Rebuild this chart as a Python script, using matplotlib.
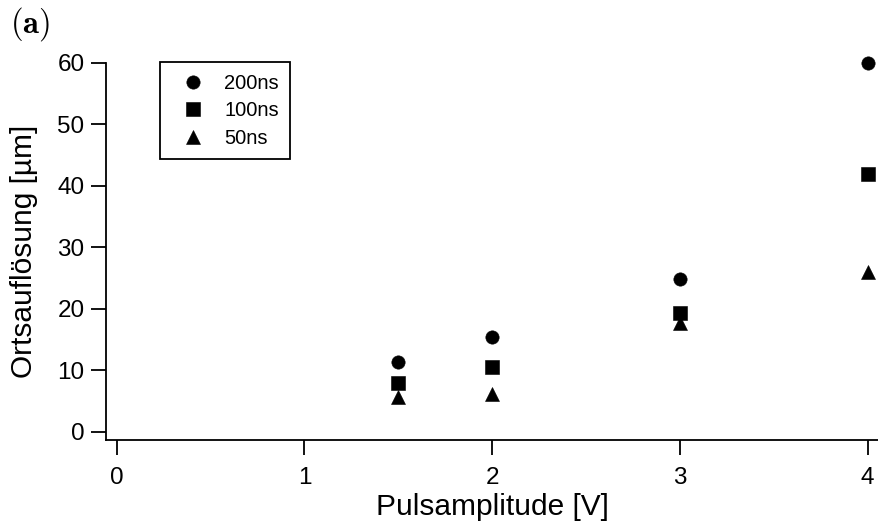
"""Ortsaufloesung vs. Pulsamplitude fuer drei Pulslaengen (Panel a)."""

import matplotlib
matplotlib.use("Agg")
import matplotlib.pyplot as plt

plt.rcParams["font.family"] = ["Liberation Sans", "DejaVu Sans"]
plt.rcParams["mathtext.fontset"] = "cm"

pulse_amp = [1.5, 2.0, 3.0, 4.0]
res_200ns = [11.4, 15.4, 24.8, 60.0]
res_100ns = [7.9, 10.6, 19.3, 41.9]
res_50ns = [5.6, 6.2, 17.6, 26.0]

series = [
    ("200ns", res_200ns, "o"),
    ("100ns", res_100ns, "s"),
    ("50ns", res_50ns, "^"),
]

x_ticks = [0, 1, 2, 3, 4]
y_ticks = [0, 10, 20, 30, 40, 50, 60]

fig = plt.figure(figsize=(8.79, 5.27), dpi=100)
ax = fig.add_axes([0.1206, 0.165, 0.8794, 0.716])

for label, values, marker in series:
    ax.plot(pulse_amp, values, linestyle="none", marker=marker, color="black",
            markersize=9.6, markeredgewidth=0.4, label=label, clip_on=False)

ax.set_xlim(-0.057, 4.06)
ax.set_ylim(-1.35, 60)
ax.set_xticks(x_ticks)
ax.set_yticks(y_ticks)

for side in ("top", "right"):
    ax.spines[side].set_visible(False)
for side in ("left", "bottom"):
    ax.spines[side].set_linewidth(1.3)

ax.tick_params(axis="both", direction="out", length=10.5, width=1.3,
               labelsize=17.5)
ax.tick_params(axis="x", pad=9)
ax.tick_params(axis="y", pad=5)

ax.set_xlabel("Pulsamplitude [V]", fontsize=21.5, labelpad=3)
ax.set_ylabel("Ortsauflösung [µm]", fontsize=21.5, labelpad=14)

leg = ax.legend(loc="upper left", bbox_to_anchor=(0.0699, 1.002),
                borderaxespad=0, fancybox=False, framealpha=1,
                edgecolor="black", fontsize=14.5, handletextpad=0.5,
                labelspacing=0.42, borderpad=0.58, handlelength=2.1)
leg.get_frame().set_linewidth(1.3)

fig.text(0.011, 0.99, r"$\mathbf{(a)}$", fontsize=23.5, va="top", ha="left")

fig.savefig("out.png", dpi=100)
